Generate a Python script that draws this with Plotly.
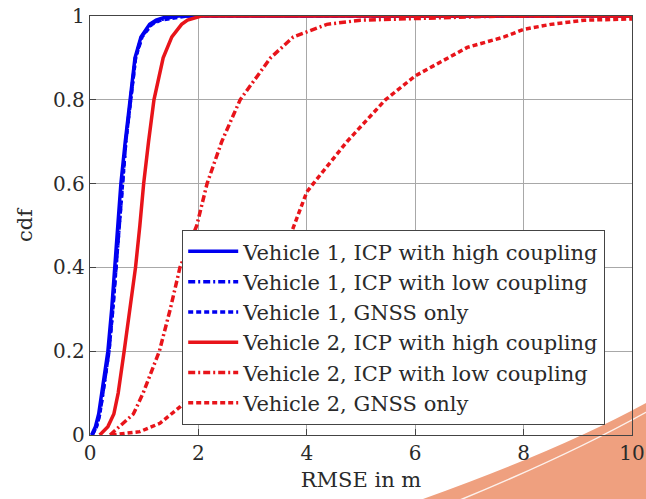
import plotly.graph_objects as go

# ---------------- data ----------------
cdf_levels = [0.0, 0.02, 0.05, 0.1, 0.2, 0.3, 0.4, 0.5, 0.6, 0.7, 0.8, 0.9, 0.95, 0.98, 0.99, 1.0, 1.0]

v1_high_x = [0.03, 0.10, 0.16, 0.22, 0.33, 0.40, 0.46, 0.52, 0.57, 0.65, 0.74, 0.83, 0.94, 1.10, 1.22, 1.45, 10.0]
v1_low_x  = [0.04, 0.12, 0.18, 0.24, 0.35, 0.42, 0.48, 0.54, 0.59, 0.66, 0.75, 0.84, 0.95, 1.12, 1.26, 1.60, 10.0]
v1_gnss_x = [0.04, 0.12, 0.18, 0.24, 0.35, 0.42, 0.48, 0.54, 0.59, 0.66, 0.75, 0.84, 0.96, 1.14, 1.30, 1.80, 10.0]

v2_high_x = [0.18, 0.33, 0.44, 0.52, 0.63, 0.74, 0.84, 0.92, 0.99, 1.08, 1.18, 1.35, 1.51, 1.69, 1.80, 2.05, 10.0]
v2_low_x  = [0.37, 0.55, 0.80, 0.98, 1.28, 1.48, 1.66, 1.97, 2.16, 2.43, 2.77, 3.33, 3.75, 4.37, 4.99, 7.6, 10.0]

v2_gnss_x = [0.40, 0.92, 1.29, 1.66, 2.00, 2.50, 3.00, 3.50, 3.73, 4.00, 4.12, 4.74, 5.45, 6.00, 6.59, 6.96, 7.64, 8.00, 8.50, 9.12, 10.0]
v2_gnss_y = [0.0, 0.008, 0.028, 0.067, 0.11, 0.19, 0.30, 0.43, 0.488, 0.58, 0.60, 0.70, 0.80, 0.857, 0.90, 0.925, 0.95, 0.968, 0.98, 0.99, 0.993]

series_names = [
    "Vehicle 1, ICP with high coupling",
    "Vehicle 1, ICP with low coupling",
    "Vehicle 1, GNSS only",
    "Vehicle 2, ICP with high coupling",
    "Vehicle 2, ICP with low coupling",
    "Vehicle 2, GNSS only",
]

x_ticks = [0, 2, 4, 6, 8, 10]
y_ticks = [0, 0.2, 0.4, 0.6, 0.8, 1]
y_tick_labels = ["0", "0.2", "0.4", "0.6", "0.8", "1"]

# ---------------- styling ----------------
BLUE = "#0000f0"
RED = "#e8141a"
LW = 3.5
DOT = "5px,3px"
DASHDOT = "7px,3px,2px,3px"
FONT = "DejaVu Serif"
TXT = "#2a2a2a"

fig = go.Figure()

specs = [
    (v1_high_x, cdf_levels, BLUE, "solid"),
    (v1_low_x, cdf_levels, BLUE, DASHDOT),
    (v1_gnss_x, cdf_levels, BLUE, DOT),
    (v2_high_x, cdf_levels, RED, "solid"),
    (v2_low_x, cdf_levels, RED, DASHDOT),
    (v2_gnss_x, v2_gnss_y, RED, DOT),
]
for i, (name, (xs, ys, col, dash)) in enumerate(zip(series_names, specs)):
    fig.add_trace(go.Scatter(
        x=xs, y=ys, mode="lines", name=name, legendgroup=f"g{i}",
        line=dict(color=col, width=LW, dash=dash),
    ))

W, H = 646, 499
ml, mr, mt, mb = 90, 14, 16, 64
pw, ph = W - ml - mr, H - mt - mb

def px(x):
    return (x - ml) / pw

def py(y):
    return (H - mb - y) / ph

# decorative slide swoosh (bottom right of the reference image)
swoosh = (f"M {px(423)},{py(499)} Q {px(560)},{py(450)} {px(646)},{py(403)} "
          f"L {px(660)},{py(403)} L {px(660)},{py(510)} L {px(423)},{py(510)} Z")
white_line = f"M {px(455)},{py(502)} Q {px(570)},{py(455)} {px(650)},{py(410)}"

fig.update_layout(
    width=W, height=H,
    margin=dict(l=ml, r=mr, t=mt, b=mb, autoexpand=False),
    paper_bgcolor="white", plot_bgcolor="white",
    font=dict(family=FONT, size=20, color=TXT),
    showlegend=True,
    legend=dict(
        x=px(182), y=py(230), xanchor="left", yanchor="top",
        bgcolor="white", bordercolor="#444444", borderwidth=1.2,
        font=dict(family=FONT, size=21, color=TXT),
        traceorder="grouped", tracegroupgap=0, itemwidth=50,
    ),
    shapes=[
        dict(type="path", path=swoosh, xref="paper", yref="paper",
             fillcolor="#efa07f", line=dict(width=0), layer="below"),
        dict(type="path", path=white_line, xref="paper", yref="paper",
             line=dict(color="rgba(255,255,255,0.85)", width=1.5), layer="below"),
    ],
)

fig.update_xaxes(
    range=[0, 10], tickvals=x_ticks, ticktext=[str(t) for t in x_ticks],
    showgrid=True, gridcolor="#a8a8a8", gridwidth=1.3,
    showline=True, linecolor="#444444", linewidth=1.3, mirror=True,
    ticks="inside", ticklen=6, tickcolor="#444444",
    zeroline=False, automargin=False, tickfont=dict(size=20),
    title=dict(text="RMSE in m", font=dict(size=21), standoff=8),
)
fig.update_yaxes(
    range=[0, 1], tickvals=y_ticks, ticktext=y_tick_labels,
    showgrid=True, gridcolor="#a8a8a8", gridwidth=1.3,
    showline=True, linecolor="#444444", linewidth=1.3, mirror=True,
    ticks="inside", ticklen=6, tickcolor="#444444",
    zeroline=False, automargin=False, tickfont=dict(size=20),
    title=dict(text="cdf", font=dict(size=21), standoff=14),
)

fig.write_html(
    "out.html",
    config={"displayModeBar": False},
    post_script="document.body.style.margin='0';document.body.style.overflow='hidden';",
)
